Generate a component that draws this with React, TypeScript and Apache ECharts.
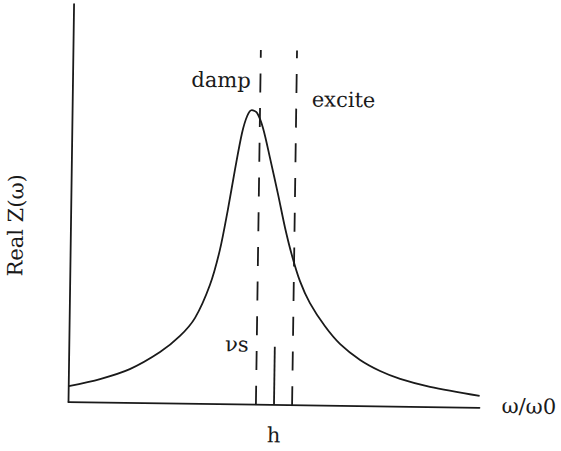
import React, { useEffect, useRef } from "react";
import * as echarts from "echarts";

// Resonance curve Real Z(ω) against ω/ω0 (arbitrary units 0–100)
const omega = [0, 7.6, 14.8, 22.1, 26.9, 30.5, 34.0, 36.3, 38.1, 39.7, 41.3, 42.5, 43.6, 44.9, 46.4, 48.2, 50.3, 52.1, 53.9, 55.9, 58.4, 62.1, 65.9, 70.8, 75.7, 80.6, 87.9, 100];
const realZ = [4.0, 5.9, 8.5, 12.9, 17.0, 21.6, 29.9, 38.7, 48.8, 58.9, 68.2, 72.5, 74.0, 73.3, 69.5, 62.0, 52.8, 44.5, 37.5, 31.2, 25.7, 20.0, 15.5, 11.6, 8.9, 7.0, 5.1, 3.0];

// Vertical markers: damping / excitation boundaries and the h line
const dampX = 45.6;
const exciteX = 54.4;
const markerTop = 89.1;
const hX = 50;
const hTop = 14.6;

// Axis tick labels (only the centre tick is named)
const xTickValues = [0, 50, 100];
const xTickLabels = ["", "h", ""];

const FONT = "DejaVu Serif";
const INK = "#1a1a1a";

export default function App() {
  const ref = useRef<HTMLDivElement>(null);

  useEffect(() => {
    if (!ref.current) return;
    const chart = echarts.init(ref.current, undefined, { renderer: "svg" });

    const vline = (x: number, top: number, dashed: boolean) => ({
      type: "line",
      data: [
        [x, 0],
        [x, top],
      ],
      showSymbol: false,
      silent: true,
      lineStyle: { color: INK, width: 1.8, type: dashed ? [19, 15.7] : "solid" },
    });

    chart.setOption({
      animation: false,
      backgroundColor: "#ffffff",
      grid: { left: 71, right: 79, top: 7, bottom: 46 },
      xAxis: {
        type: "value",
        min: 0,
        max: 100,
        interval: 50,
        axisLine: { show: true, lineStyle: { color: INK, width: 1.8 } },
        axisTick: { show: false },
        splitLine: { show: false },
        axisLabel: {
          margin: 20,
          fontFamily: FONT,
          fontSize: 21,
          color: INK,
          formatter: (v: number) => {
            const i = xTickValues.indexOf(v);
            return i >= 0 ? xTickLabels[i] : "";
          },
        },
      },
      yAxis: {
        type: "value",
        min: 0,
        max: 100,
        axisLine: { show: true, lineStyle: { color: INK, width: 1.8 } },
        axisTick: { show: false },
        splitLine: { show: false },
        axisLabel: { show: false },
      },
      series: [
        {
          type: "line",
          data: omega.map((w, i) => [w, realZ[i]]),
          smooth: 0.3,
          showSymbol: false,
          silent: true,
          lineStyle: { color: INK, width: 1.8 },
        },
        vline(dampX, markerTop, true),
        vline(exciteX, markerTop, true),
        vline(hX, hTop, false),
      ],
      graphic: [
        {
          type: "text",
          x: 219,
          y: 81,
          style: { text: "damp", font: `21px "${FONT}"`, fill: INK, align: "center", verticalAlign: "middle" },
        },
        {
          type: "text",
          x: 310,
          y: 99,
          style: { text: "excite", font: `21px "${FONT}"`, fill: INK, align: "left", verticalAlign: "middle" },
        },
        {
          type: "text",
          x: 238.5,
          y: 345,
          style: { text: "νs", font: `21px "${FONT}"`, fill: INK, align: "center", verticalAlign: "middle" },
        },
        {
          type: "text",
          x: 504,
          y: 403,
          style: { text: "ω/ω0", font: `21px "${FONT}"`, fill: INK, align: "left", verticalAlign: "middle" },
        },
        {
          type: "text",
          x: 16,
          y: 229,
          rotation: Math.PI / 2,
          style: { text: "Real Z(ω)", font: `21px "${FONT}"`, fill: INK, align: "center", verticalAlign: "middle" },
        },
      ],
    });

    return () => chart.dispose();
  }, []);

  return (
    <div
      style={{
        position: "fixed",
        left: 0,
        top: 0,
        width: 561,
        height: 451,
        background: "#ffffff",
        overflow: "hidden",
      }}
    >
      <div
        style={{
          width: 561,
          height: 451,
          transform: "rotate(0.8deg)",
          transformOrigin: "280px 225px",
        }}
      >
        <div ref={ref} style={{ width: 561, height: 451 }} />
      </div>
    </div>
  );
}
